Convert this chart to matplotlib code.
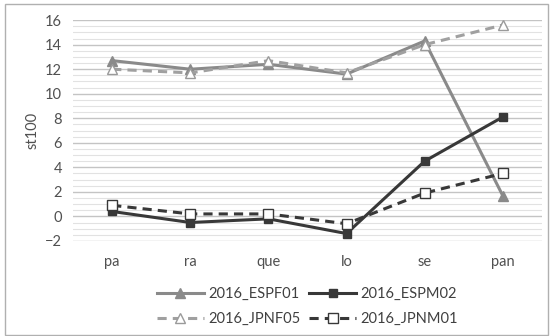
import matplotlib.pyplot as plt
from matplotlib.patches import Rectangle
from matplotlib.ticker import MultipleLocator

categories = ['pa', 'ra', 'que', 'lo', 'se', 'pan']
espf01 = [12.7, 12.0, 12.4, 11.6, 14.3, 1.7]
espm02 = [0.4, -0.5, -0.2, -1.4, 4.5, 8.1]
jpnf05 = [12.0, 11.7, 12.7, 11.7, 14.0, 15.6]
jpnm01 = [0.9, 0.2, 0.2, -0.6, 1.9, 3.5]

plt.rcParams['font.family'] = ['Lato', 'DejaVu Sans']

fig = plt.figure(figsize=(5.5, 3.36), dpi=100)
ax = fig.add_axes([0.133, 0.283, 0.852, 0.657])

x = range(len(categories))
l1, = ax.plot(x, espf01, color='#8a8a8a', lw=2.2, marker='^', ms=7,
              label='2016_ESPF01', zorder=3)
l2, = ax.plot(x, espm02, color='#383838', lw=2.2, marker='s', ms=6,
              label='2016_ESPM02', zorder=3)
l3, = ax.plot(x, jpnf05, color='#a0a0a0', lw=2.2, ls=(0, (3, 2)), marker='^',
              ms=7, mfc='white', mec='#9a9a9a', label='2016_JPNF05', zorder=3)
l4, = ax.plot(x, jpnm01, color='#383838', lw=2.2, ls=(0, (3, 2)), marker='s',
              ms=6.5, mfc='white', mec='#383838', label='2016_JPNM01', zorder=3)

ax.set_xlim(-0.5, len(categories) - 0.5)
ax.set_ylim(-2, 16)
ax.set_xticks(list(x))
ax.set_xticklabels(categories)
ax.yaxis.set_major_locator(MultipleLocator(2))
ax.yaxis.set_minor_locator(MultipleLocator(0.5))
ax.grid(which='major', axis='y', color='#c4c4c4', lw=1.0)
ax.grid(which='minor', axis='y', color='#e2e2e2', lw=0.8)
ax.set_axisbelow(True)
for s in ax.spines.values():
    s.set_visible(False)
ax.tick_params(which='both', length=0, labelsize=10.5, colors='#505050', pad=8)
ax.tick_params(axis='x', pad=10)
ax.set_ylabel('st100', fontsize=10.5, color='#505050', labelpad=4)

# column-wise fill: ESPF01 / JPNF05 in col 1, ESPM02 / JPNM01 in col 2
ax.legend([l1, l3, l2, l4], [l.get_label() for l in (l1, l3, l2, l4)],
          loc='upper center', bbox_to_anchor=(0.5, -0.15), ncol=2,
          frameon=False, fontsize=10.5, handlelength=3.2, columnspacing=0.6,
          labelspacing=0.75, handletextpad=0.3, labelcolor='#404040')

fig.patches.append(Rectangle((5 / 550, 1 / 336), 543 / 550, 331 / 336,
                             transform=fig.transFigure, fill=False,
                             edgecolor='#b0b0b0', lw=1.0))

fig.savefig('out.png', dpi=100)
